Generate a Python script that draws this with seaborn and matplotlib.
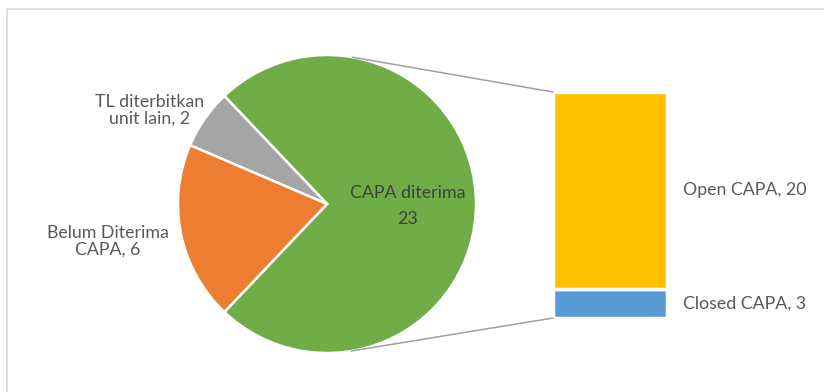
import numpy as np
import matplotlib
matplotlib.use("Agg")
import matplotlib.pyplot as plt
from matplotlib.patches import ConnectionPatch, Rectangle
import seaborn as sns

# CAPA status data
pie_labels = ["CAPA diterima", "TL diterbitkan\nunit lain", "Belum Diterima\nCAPA"]
pie_values = [23, 2, 6]
pie_colors = ["#70AD47", "#A5A5A5", "#ED7D31"]

bar_labels = ["Closed CAPA", "Open CAPA"]
bar_values = [3, 20]
bar_colors = ["#5B9BD5", "#FFC000"]

sns.set_theme(style="white")
plt.rcParams["font.family"] = ["Lato", "DejaVu Sans"]
text_color = "#595959"
fs = 12.8

W, H = 824, 392
fig = plt.figure(figsize=(W / 100, H / 100), dpi=100)

def px_axes(left, top, right, bottom):
    return fig.add_axes([left / W, 1 - bottom / H, (right - left) / W, (bottom - top) / H])

# Pie part
ax_pie = px_axes(178, 55, 476, 353)
total = sum(pie_values)
start = -360 * pie_values[0] / total / 2
wedges, _ = ax_pie.pie(pie_values, colors=pie_colors, startangle=start, counterclock=True,
                       radius=1, wedgeprops=dict(edgecolor="white", linewidth=1.8))
ax_pie.set_xlim(-1, 1)
ax_pie.set_ylim(-1, 1)
ax_pie.set_aspect("equal")
ax_pie.axis("off")

ax_pie.text(0.54, -0.015, f"{pie_labels[0]}\n{pie_values[0]}", ha="center", va="center",
            fontsize=fs, color="#404040", linespacing=1.75)
ax_pie.text(-1.19, 0.63, f"{pie_labels[1]}, {pie_values[1]}", ha="center", va="center",
            fontsize=fs, color=text_color, linespacing=1.05)
ax_pie.text(-1.47, -0.25, f"{pie_labels[2]}, {pie_values[2]}", ha="center", va="center",
            fontsize=fs, color=text_color, linespacing=1.05)

# Bar part: breakdown of the accepted CAPA
ax_bar = px_axes(553, 92, 667, 318)
bottoms = np.concatenate([[0], np.cumsum(bar_values)[:-1]])
for lab, val, b, c in zip(bar_labels, bar_values, bottoms, bar_colors):
    ax_bar.bar(0, val, bottom=b, width=1, color=c, edgecolor="white", linewidth=2.5)
    ax_bar.annotate(f"{lab}, {val}", xy=(0.5, b + val / 2), xytext=(11.5, 0),
                    textcoords="offset points", ha="left", va="center",
                    fontsize=fs, color=text_color)
ax_bar.set_xlim(-0.5, 0.5)
ax_bar.set_ylim(0, sum(bar_values))
ax_bar.axis("off")

# Connector lines tangent to the pie, ending at the bar corners
fig.canvas.draw()
for ycorner in (sum(bar_values), 0):
    corner_disp = ax_bar.transData.transform((-0.5, ycorner))
    px, py = ax_pie.transData.inverted().transform(corner_disp)
    d = np.hypot(px, py)
    base = np.arctan2(py, px)
    ang = base + np.sign(py) * np.arccos(1 / d)
    con = ConnectionPatch(xyA=(np.cos(ang), np.sin(ang)), coordsA=ax_pie.transData,
                          xyB=(-0.5, ycorner), coordsB=ax_bar.transData,
                          color="#A0A0A0", linewidth=1.1)
    fig.add_artist(con)

# Chart area frame
fig.add_artist(Rectangle((7.5 / W, -0.1), 1.2, 1.1 - 9.5 / H, transform=fig.transFigure,
                         fill=False, edgecolor="#D9D9D9", linewidth=1.2))

fig.savefig("out.png", dpi=100)
